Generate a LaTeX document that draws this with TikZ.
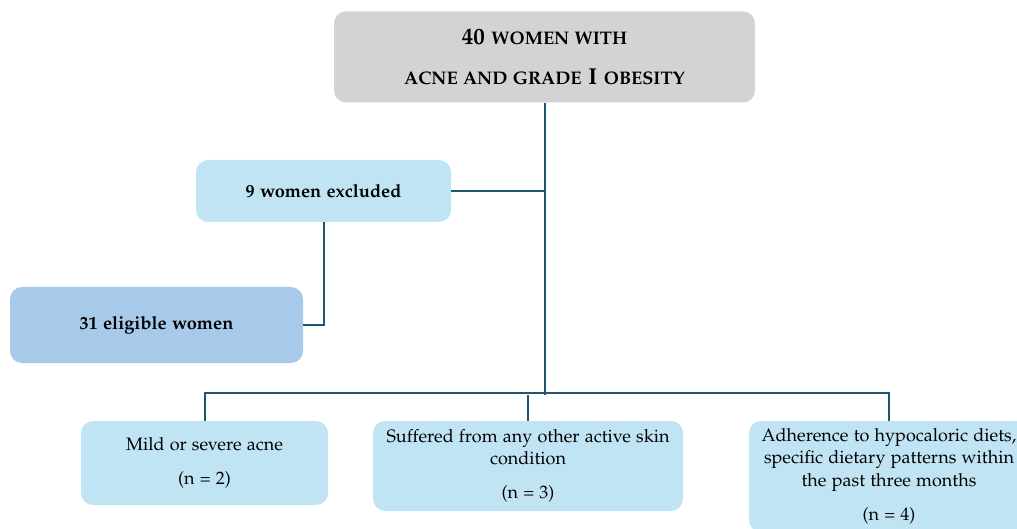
\documentclass[tikz,border=0pt]{standalone}
\usepackage[T1]{fontenc}
\usepackage[sc]{mathpazo}
\usetikzlibrary{positioning}

\definecolor{linkcol}{HTML}{1F5670}
\definecolor{greybox}{HTML}{D3D3D3}
\definecolor{paleblue}{HTML}{C1E4F4}
\definecolor{midblue}{HTML}{A7CAEB}

\def\boxfont{\fontsize{9}{11.3}\selectfont}
\def\headfont{\fontsize{9.1}{11}\selectfont\bfseries}
% small capitals done by hand
\def\smc#1{{\fontsize{9.1}{20}\selectfont #1}}

\tikzset{
  box/.style={rounded corners=6pt, align=center, inner sep=0pt, font=\boxfont},
  link/.style={draw=linkcol, line width=1pt},
}

\begin{document}
\begin{tikzpicture}[x=0.5pt, y=-0.5pt]
\useasboundingbox (0,0) rectangle (1017,529);
% Top box
\node[box, fill=greybox, minimum width=210.5pt, minimum height=45.5pt,
      font=\fontsize{11.5}{20}\selectfont\bfseries] (total) at (544.5,57)
  {40 \smc{WOMEN WITH}\\ \smc{ACNE AND GRADE} I \smc{OBESITY}};
% Excluded and eligible
\node[box, fill=paleblue, minimum width=127.5pt, minimum height=31pt, font=\headfont] (excl) at (323.5,191) {9 women excluded};
\node[box, fill=midblue, minimum width=146.5pt, minimum height=38pt, font=\headfont] (elig) at (156.5,325) {31 eligible women};
% Reasons for exclusion
\node[box, fill=paleblue, minimum width=123.5pt, minimum height=42pt] (acne) at (204.5,463)
  {Mild or severe acne\\[5.8pt] (n = 2)};
\node[box, fill=paleblue, minimum width=155pt, minimum height=45pt] (skin) at (528,466)
  {Suffered from any other active skin\\ condition\\[5.8pt] (n = 3)};
\node[box, fill=paleblue, minimum width=140pt, minimum height=55.5pt] (diet) at (889,476.5)
  {Adherence to hypocaloric diets,\\ specific dietary patterns within\\ the past three months\\[5.8pt] (n = 4)};
% Connectors
\path (total.south) ++(0,292) coordinate (fork);
\draw[link] (total) -- (fork);
\draw[link] (excl.east) -- (excl.east -| total.south);
\draw[link] (excl.south) |- (elig.east);
\draw[link] (acne.north) -- ++(0,-28) -| (diet.north);
\draw[link] (skin.north) -- (skin.north |- fork);
\end{tikzpicture}
\end{document}
